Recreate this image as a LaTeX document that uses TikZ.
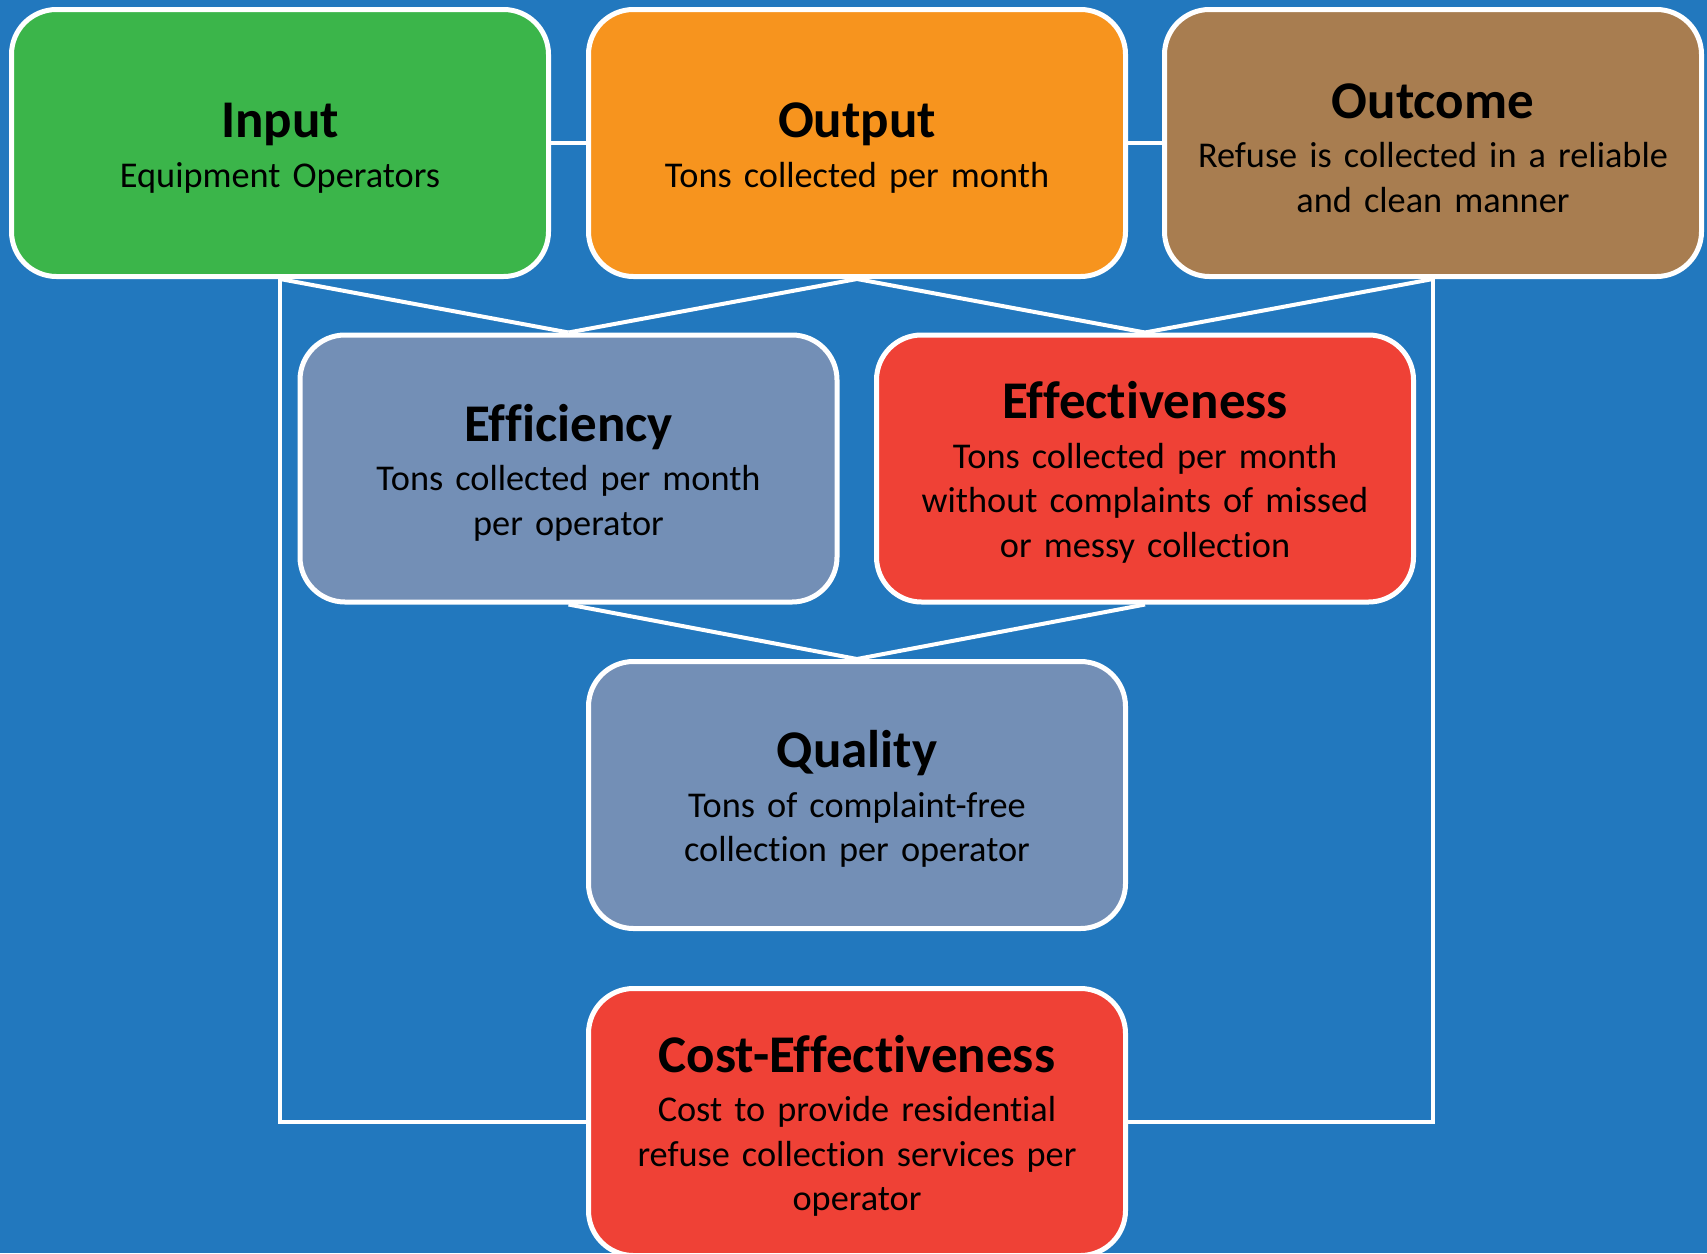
\documentclass[tikz,border=0pt]{standalone}
\usepackage{fontspec}
\setmainfont[Ligatures=NoCommon]{Carlito}
\definecolor{bgblue}{RGB}{34,120,190}
\definecolor{cgreen}{RGB}{59,181,74}
\definecolor{corange}{RGB}{247,148,30}
\definecolor{cbrown}{RGB}{168,125,80}
\definecolor{cgrey}{RGB}{115,143,182}
\definecolor{cred}{RGB}{239,65,54}
\newcommand{\boxtitle}[1]{{\fontsize{53}{54}\selectfont\bfseries\rule{0pt}{45pt}#1}\\[5pt]}
\begin{document}
\begin{tikzpicture}[x=1pt,y=-1pt,
  card/.style={draw=white, line width=5pt, rounded corners=45pt,
    minimum width=537pt, minimum height=267pt, align=center,
    text width=510pt, inner sep=0pt,
    font=\fontsize{36.3}{44.5}\selectfont, text=black},
  link/.style={draw=white, line width=4pt}]
\fill[bgblue] (0,0) rectangle (1707,1253);
\useasboundingbox (0,0) rectangle (1707,1253);
\node[card, fill=cgreen]  (input)   at (280,143)   {\boxtitle{Input}Equipment Operators};
\node[card, fill=corange] (output)  at (857,143)   {\boxtitle{Output}Tons collected per month};
\node[card, fill=cbrown]  (outcome) at (1433,143)  {\boxtitle{Outcome}Refuse is collected in a reliable\\and clean manner};
\node[card, fill=cgrey]   (eff)     at (568.5,468.5) {\boxtitle{Efficiency}Tons collected per month\\per operator};
\node[card, fill=cred]    (effect)  at (1145,468.5)  {\boxtitle{Effectiveness}Tons collected per month\\without complaints of missed\\or messy collection};
\node[card, fill=cgrey]   (quality) at (857,795)   {\boxtitle{Quality}Tons of complaint-free\\collection per operator};
\node[card, fill=cred]    (cost)    at (857,1122)  {\boxtitle{Cost-Effectiveness}Cost to provide residential\\refuse collection services per\\operator};
\draw[link] (input.east) -- (output.west);
\draw[link] (output.east) -- (outcome.west);
\draw[link] (input.south) -- (eff.north);
\draw[link] (output.south) -- (eff.north);
\draw[link] (output.south) -- (effect.north);
\draw[link] (outcome.south) -- (effect.north);
\draw[link] (eff.south) -- (quality.north);
\draw[link] (effect.south) -- (quality.north);
\draw[link] (input.south) |- (cost.west);
\draw[link] (outcome.south) |- (cost.east);
\end{tikzpicture}
\end{document}
